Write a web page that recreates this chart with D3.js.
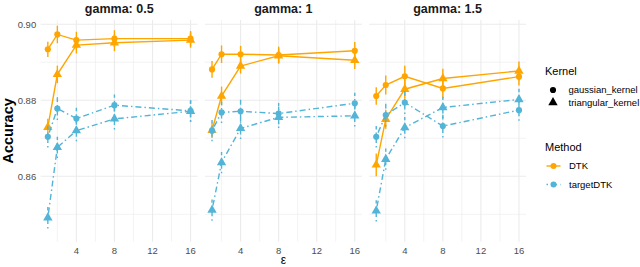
<!DOCTYPE html>
<html>
<head>
<meta charset="utf-8">
<script src="https://cdn.jsdelivr.net/npm/d3@7"></script>
<style>
  body { margin: 0; background: #fff; }
  svg { font-family: 'Liberation Sans', Arial, sans-serif; display: block; }
</style>
</head>
<body>
<svg id="chart" width="640" height="267"></svg>
<script>
// facets and x values
const gammas = ['0.5', '1', '1.5'];
const epsilons = [1, 2, 4, 8, 16];

// accuracy per gamma panel (rows) and epsilon (cols)
const dtkGaussian = [
  [0.8934, 0.8973, 0.8958, 0.8962, 0.8962],
  [0.8881, 0.8921, 0.8921, 0.8919, 0.8930],
  [0.8811, 0.8840, 0.8863, 0.8831, 0.8862]
];
const dtkTriangular = [
  [0.8729, 0.8868, 0.8945, 0.8951, 0.8958],
  [0.8721, 0.8811, 0.8890, 0.8917, 0.8905],
  [0.8630, 0.8750, 0.8829, 0.8857, 0.8877]
];
const targetGaussian = [
  [0.8704, 0.8778, 0.8752, 0.8787, 0.8772],
  [0.8720, 0.8768, 0.8771, 0.8765, 0.8792],
  [0.8704, 0.8761, 0.8794, 0.8732, 0.8774]
];
const targetTriangular = [
  [0.8491, 0.8676, 0.8720, 0.8751, 0.8771],
  [0.8511, 0.8636, 0.8726, 0.8755, 0.8759],
  [0.8509, 0.8645, 0.8728, 0.8781, 0.8802]
];

// error bar half widths
const dtkGaussianErr = [
  [0.0020, 0.0023, 0.0022, 0.0022, 0.0020],
  [0.0022, 0.0023, 0.0022, 0.0022, 0.0023],
  [0.0023, 0.0025, 0.0028, 0.0026, 0.0023]
];
const dtkTriangularErr = [
  [0.0022, 0.0023, 0.0022, 0.0022, 0.0020],
  [0.0020, 0.0025, 0.0020, 0.0020, 0.0023],
  [0.0030, 0.0025, 0.0025, 0.0026, 0.0025]
];
const targetGaussianErr = [
  [0.0028, 0.0030, 0.0028, 0.0028, 0.0028],
  [0.0028, 0.0028, 0.0030, 0.0028, 0.0028],
  [0.0028, 0.0030, 0.0030, 0.0030, 0.0028]
];
const targetTriangularErr = [
  [0.0028, 0.0028, 0.0028, 0.0028, 0.0028],
  [0.0028, 0.0028, 0.0028, 0.0028, 0.0028],
  [0.0028, 0.0028, 0.0028, 0.0028, 0.0028]
];

const yTicks = [0.86, 0.88, 0.90];
const yMinor = [0.85, 0.87, 0.89];
const xTicks = [4, 8, 12, 16];
const xMinor = [2, 6, 10, 14];

const methods = ['DTK', 'targetDTK'];
const kernels = ['gaussian_kernel', 'triangular_kernel'];

const series = [
  {method: 'DTK', kernel: 'gaussian_kernel', values: dtkGaussian, err: dtkGaussianErr},
  {method: 'DTK', kernel: 'triangular_kernel', values: dtkTriangular, err: dtkTriangularErr},
  {method: 'targetDTK', kernel: 'gaussian_kernel', values: targetGaussian, err: targetGaussianErr},
  {method: 'targetDTK', kernel: 'triangular_kernel', values: targetTriangular, err: targetTriangularErr}
];

const color = d3.scaleOrdinal().domain(methods).range(['#FFA500', '#52B4D6']);
const dash = d3.scaleOrdinal().domain(methods).range([null, '1.5,3,6,3']);
const shape = d3.scaleOrdinal().domain(kernels).range([d3.symbolCircle, d3.symbolTriangle]);
const shapeSize = d3.scaleOrdinal().domain(kernels).range([30, 38]);

const panelLeft = 40.7;
const panelW = 157;
const panelGap = 7.2;
const plotTop = 20;
const plotBottom = 241.7;

const svg = d3.select('#chart');

const x = d3.scaleLinear().domain([0.25, 16.75]).range([0, panelW]);
const y = d3.scaleLinear().domain([0.8428, 0.9011]).range([plotBottom, plotTop]);

const line = d3.line().x(d => x(d[0])).y(d => y(d[1]));

gammas.forEach((g, gi) => {
  const p = svg.append('g')
    .attr('transform', `translate(${panelLeft + gi * (panelW + panelGap)},0)`);

  // grid
  p.selectAll('.ym').data(yMinor).enter().append('line')
    .attr('x1', 0).attr('x2', panelW)
    .attr('y1', d => y(d)).attr('y2', d => y(d))
    .attr('stroke', '#EBEBEB').attr('stroke-width', 0.6);
  p.selectAll('.xm').data(xMinor).enter().append('line')
    .attr('y1', plotTop).attr('y2', plotBottom)
    .attr('x1', d => x(d)).attr('x2', d => x(d))
    .attr('stroke', '#EBEBEB').attr('stroke-width', 0.6);
  p.selectAll('.yM').data(yTicks).enter().append('line')
    .attr('x1', 0).attr('x2', panelW)
    .attr('y1', d => y(d)).attr('y2', d => y(d))
    .attr('stroke', '#EBEBEB').attr('stroke-width', 1.1);
  p.selectAll('.xM').data(xTicks).enter().append('line')
    .attr('y1', plotTop).attr('y2', plotBottom)
    .attr('x1', d => x(d)).attr('x2', d => x(d))
    .attr('stroke', '#EBEBEB').attr('stroke-width', 1.1);

  // strip title
  p.append('text')
    .attr('x', panelW / 2).attr('y', 13)
    .attr('text-anchor', 'middle')
    .attr('font-size', 12.5).attr('font-weight', 'bold')
    .attr('fill', '#1A1A1A')
    .text(`gamma: ${g}`);

  // x tick labels
  p.selectAll('.xt').data(xTicks).enter().append('text')
    .attr('x', d => x(d)).attr('y', 254)
    .attr('text-anchor', 'middle')
    .attr('font-size', 9.5).attr('fill', '#4D4D4D')
    .text(d => d);

  if (gi === 0) {
    p.selectAll('.yt').data(yTicks).enter().append('text')
      .attr('x', -4.5).attr('y', d => y(d)).attr('dy', '0.35em')
      .attr('text-anchor', 'end')
      .attr('font-size', 9.5).attr('fill', '#4D4D4D')
      .text(d => d3.format('.2f')(d));
  }

  series.forEach(s => {
    const pts = epsilons.map((e, i) => [e, s.values[gi][i], s.err[gi][i]]);
    const c = color(s.method);

    p.append('path')
      .datum(pts)
      .attr('d', line)
      .attr('fill', 'none')
      .attr('stroke', c)
      .attr('stroke-width', 1.4)
      .attr('stroke-dasharray', dash(s.method));

    p.selectAll(null).data(pts).enter().append('line')
      .attr('x1', d => x(d[0])).attr('x2', d => x(d[0]))
      .attr('y1', d => y(d[1] - d[2])).attr('y2', d => y(d[1] + d[2]))
      .attr('stroke', c)
      .attr('stroke-width', 1.4)
      .attr('stroke-dasharray', dash(s.method));

    p.selectAll(null).data(pts).enter().append('path')
      .attr('transform', d => `translate(${x(d[0])},${y(d[1])})`)
      .attr('d', d3.symbol(shape(s.kernel), shapeSize(s.kernel)))
      .attr('fill', c);
  });
});

// axis titles
svg.append('text')
  .attr('transform', `translate(13,${(plotTop + plotBottom) / 2}) rotate(-90)`)
  .attr('text-anchor', 'middle')
  .attr('font-size', 14.5).attr('font-weight', 'bold')
  .text('Accuracy');

const plotRight = panelLeft + 3 * panelW + 2 * panelGap;
svg.append('text')
  .attr('x', (panelLeft + plotRight) / 2).attr('y', 264)
  .attr('text-anchor', 'middle')
  .attr('font-size', 12)
  .text('ε');

// legend
const lg = svg.append('g').attr('transform', 'translate(545,0)');
lg.append('text').attr('x', 0).attr('y', 75).attr('font-size', 11).text('Kernel');
kernels.forEach((k, i) => {
  const yy = 90 + i * 12.5;
  lg.append('path')
    .attr('transform', `translate(8,${yy})`)
    .attr('d', d3.symbol(shape(k), shapeSize(k)))
    .attr('fill', '#000');
  lg.append('text').attr('x', 23.5).attr('y', yy).attr('dy', '0.35em')
    .attr('font-size', 9.5).text(k);
});

lg.append('text').attr('x', 0).attr('y', 151).attr('font-size', 11).text('Method');
methods.forEach((m, i) => {
  const yy = 166 + i * 18.5;
  lg.append('line')
    .attr('x1', 1.5).attr('x2', 15.5).attr('y1', yy).attr('y2', yy)
    .attr('stroke', color(m)).attr('stroke-width', 1.4)
    .attr('stroke-dasharray', dash(m));
  lg.append('circle')
    .attr('cx', 8.5).attr('cy', yy).attr('r', 3)
    .attr('fill', color(m));
  lg.append('text').attr('x', 24).attr('y', yy).attr('dy', '0.35em')
    .attr('font-size', 9.5).text(m);
});
</script>
</body>
</html>
